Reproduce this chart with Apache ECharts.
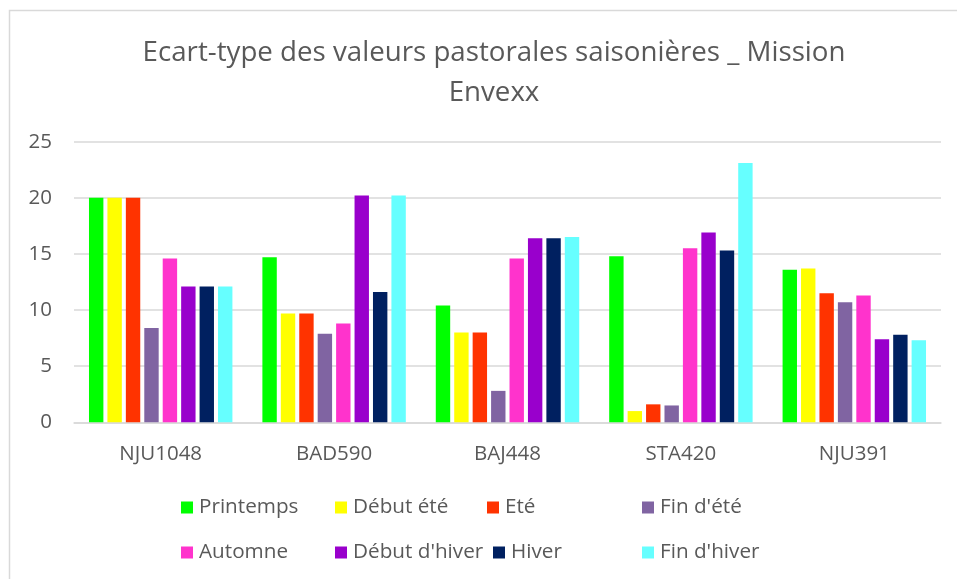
<!DOCTYPE html>
<html>
<head>
<meta charset="utf-8">
<style>
  html, body { margin: 0; padding: 0; background: #ffffff; }
  #chart { width: 957px; height: 579px; }
</style>
<script src="https://cdn.jsdelivr.net/npm/echarts@6/dist/echarts.min.js"></script>
</head>
<body>
<div id="chart"></div>
<script>
// Stations
const categories = ['NJU1048', 'BAD590', 'BAJ448', 'STA420', 'NJU391'];

// Seasonal standard deviations, one array per season
const printemps    = [20.0, 14.7, 10.4, 14.8, 13.6];
const debutEte     = [20.0, 9.7, 8.0, 1.0, 13.7];
const ete          = [20.0, 9.7, 8.0, 1.6, 11.5];
const finEte       = [8.4, 7.9, 2.8, 1.5, 10.7];
const automne      = [14.6, 8.8, 14.6, 15.5, 11.3];
const debutHiver   = [12.1, 20.2, 16.4, 16.9, 7.4];
const hiver        = [12.1, 11.6, 16.4, 15.3, 7.8];
const finHiver     = [12.1, 20.2, 16.5, 23.1, 7.3];

const seriesNames = ['Printemps', 'Début été', 'Eté', "Fin d'été", 'Automne', "Début d'hiver", 'Hiver', "Fin d'hiver"];
const seriesValues = [printemps, debutEte, ete, finEte, automne, debutHiver, hiver, finHiver];
const seriesColors = ['#00ff00', '#ffff00', '#ff3300', '#8064a2', '#ff33cc', '#9900cc', '#002060', '#66ffff'];

const yTicks = { min: 0, max: 25, interval: 5 };

const FONT = '"Open Sans", sans-serif';
const TXT = '#595959';

// Legend slots laid out in two rows of four
const legendSlots = [
  [181, 507], [335, 507], [487, 507], [642, 507],
  [181, 552], [335, 552], [493, 552], [642, 552]
];

const chart = echarts.init(document.getElementById('chart'));

chart.setOption({
  backgroundColor: '#ffffff',
  animation: false,
  graphic: [{
    type: 'rect',
    silent: true,
    shape: { x: 9.5, y: 10.5, width: 2000, height: 2000 },
    style: { fill: 'none', stroke: '#d9d9d9', lineWidth: 1.5 }
  }],
  title: {
    text: 'Ecart-type des valeurs pastorales saisonières _ Mission\nEnvexx',
    left: 489,
    top: 28,
    textAlign: 'center',
    textStyle: {
      fontFamily: FONT,
      fontSize: 27.7,
      fontWeight: 'normal',
      color: TXT,
      lineHeight: 40
    }
  },
  legend: seriesNames.map((name, i) => ({
    data: [name],
    left: legendSlots[i][0],
    top: legendSlots[i][1] - 10,
    padding: 0,
    icon: 'rect',
    itemWidth: 12,
    itemHeight: 12,
    itemGap: 0,
    selectedMode: false,
    textStyle: { fontFamily: FONT, fontSize: 20.7, color: TXT, padding: [0, 0, 0, 1] }
  })),
  grid: { left: 74, right: 16, top: 141.7, bottom: 156.7 },
  xAxis: {
    type: 'category',
    data: categories,
    axisLine: { lineStyle: { color: '#d9d9d9', width: 1.5 } },
    axisTick: { show: false },
    axisLabel: { fontFamily: FONT, fontSize: 20.5, color: TXT, margin: 21 }
  },
  yAxis: {
    type: 'value',
    min: yTicks.min,
    max: yTicks.max,
    interval: yTicks.interval,
    axisLine: { show: false },
    axisTick: { show: false },
    splitLine: { lineStyle: { color: '#d9d9d9', width: 1.5 } },
    axisLabel: { fontFamily: FONT, fontSize: 20.5, color: TXT, margin: 22 }
  },
  series: seriesNames.map((name, i) => ({
    name: name,
    type: 'bar',
    data: seriesValues[i],
    barWidth: 14.4,
    barGap: '28%',
    itemStyle: { color: seriesColors[i] }
  }))
});
</script>
</body>
</html>
